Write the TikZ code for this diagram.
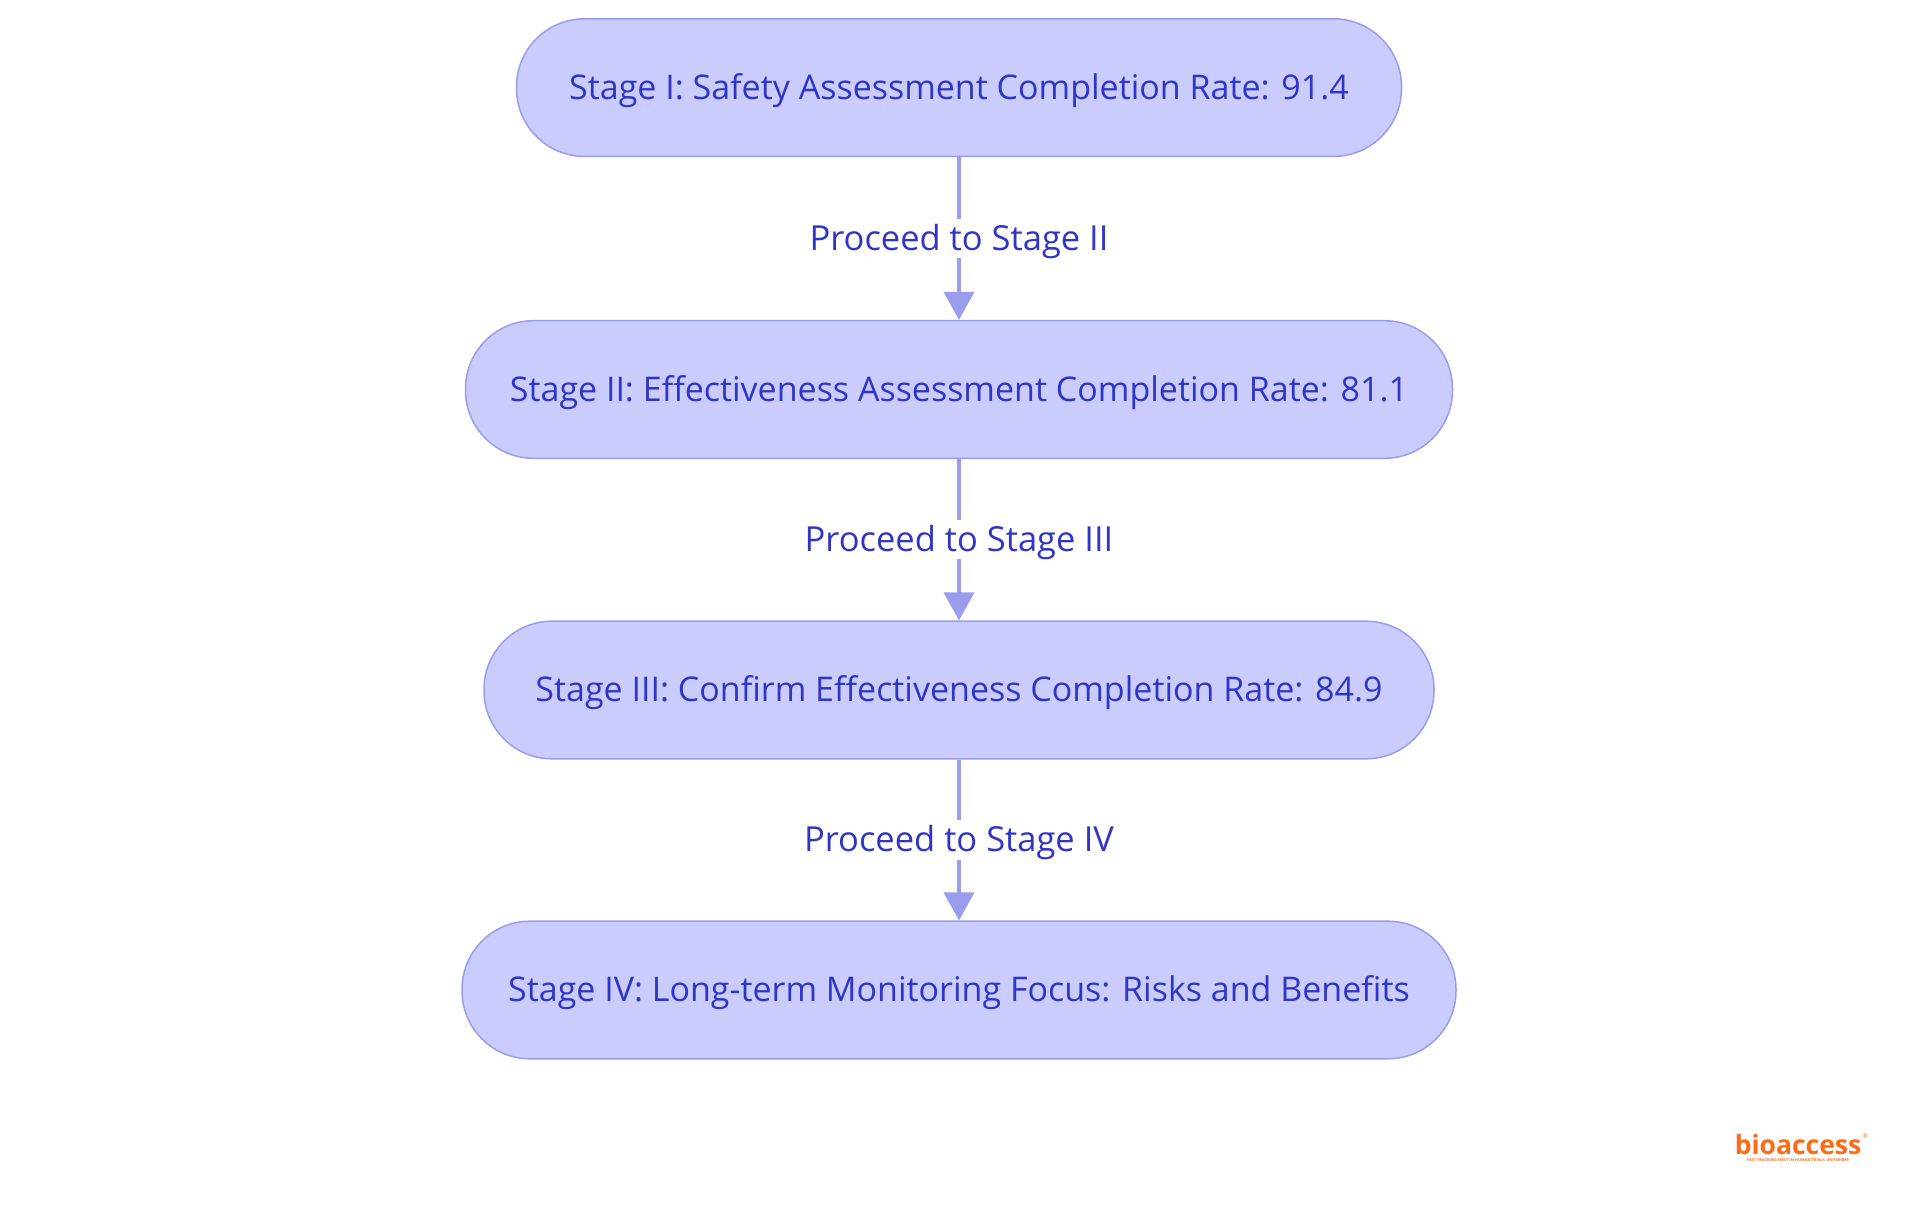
\documentclass[tikz,border=0pt]{standalone}
\usepackage{fontspec}
\setmainfont{Open Sans}
\usetikzlibrary{arrows.meta}
\definecolor{stagefill}{HTML}{CBCCFE}
\definecolor{stageline}{HTML}{9A9DEE}
\definecolor{stagetext}{HTML}{3034C8}
\definecolor{logoorange}{HTML}{FF6A13}

\begin{document}
\begin{tikzpicture}[x=1pt,y=-1pt,
    stage/.style={draw=stageline, line width=1.5pt, fill=stagefill,
        rounded corners=68pt, minimum height=137.6pt, inner sep=0pt,
        text depth=3pt, text=stagetext, font=\fontsize{34}{40}\selectfont},
    flow/.style={draw=stageline, line width=3.5pt,
        -{Triangle[length=28pt,width=30pt]}},
    flowtext/.style={fill=white, text=stagetext, inner sep=5pt,
        text depth=3pt, font=\fontsize{34.5}{40}\selectfont}]
        \path[use as bounding box] (0,0) rectangle (1920,1215);
        \node[stage, minimum width=885pt](s1) at (959,87.6) {Stage I: Safety Assessment Completion Rate: 91.4};
        \node[stage, minimum width=987pt](s2) at (959,389.5) {Stage II: Effectiveness Assessment Completion Rate: 81.1};
        \node[stage, minimum width=950pt](s3) at (959,690) {Stage III: Confirm Effectiveness Completion Rate: 84.9};
        \node[stage, minimum width=994pt](s4) at (959,990) {Stage IV: Long-term Monitoring Focus: Risks and Benefits};
        \draw[flow](s1)--(s2) node[flowtext, midway] {Proceed to Stage II};
        \draw[flow](s2)--(s3) node[flowtext, midway] {Proceed to Stage III};
        \draw[flow](s3)--(s4) node[flowtext, midway] {Proceed to Stage IV};
        % logo
        \node[text=logoorange, font=\fontsize{26.5}{26}\selectfont\bfseries, inner sep=0pt](logo) at (1798,1145) {bioaccess};
        \node[text=logoorange, font=\fontsize{6.5}{6}\selectfont, anchor=south west, inner sep=0pt] at ([xshift=1pt,yshift=-4pt]logo.north east) {®};
        \node[text=logoorange, font=\fontsize{3.9}{4}\selectfont\bfseries, anchor=north, inner sep=0pt] at ([yshift=-3.5pt]logo.south) {FAST-TRACKING FIRST-IN-HUMAN TRIALS, ANYWHERE};
        \end{tikzpicture}
\end{document}
